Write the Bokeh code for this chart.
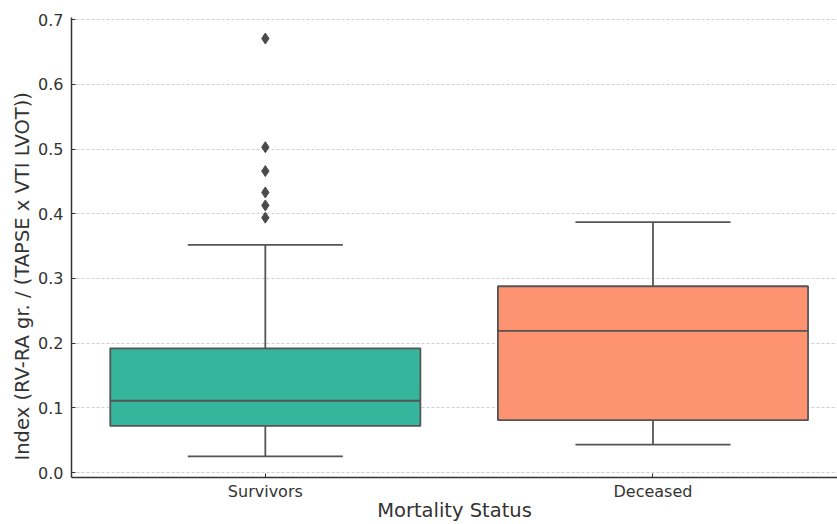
from bokeh.plotting import figure
from bokeh.models import FixedTicker, Range1d, ColumnDataSource, Title
from bokeh.embed import file_html
from bokeh.resources import INLINE

# ---- data ----
categories = ["Survivors", "Deceased"]
q1 = [0.072, 0.081]
median = [0.111, 0.219]
q3 = [0.192, 0.288]
whisker_low = [0.025, 0.043]
whisker_high = [0.352, 0.387]
colors = ["#35b59b", "#fd9370"]
outliers_survivors = [0.671, 0.503, 0.466, 0.433, 0.413, 0.394]
outliers_deceased = []
y_ticks = [0.0, 0.1, 0.2, 0.3, 0.4, 0.5, 0.6, 0.7]
x_title = "Mortality Status"
y_title = "Index (RV-RA gr. / (TAPSE x VTI LVOT))"

pos = list(range(len(categories)))
box_w = 0.8
cap_w = 0.4
line_col = "#555555"
font = "DejaVu Sans"

p = figure(width=837, height=524, output_backend="svg", toolbar_location=None,
           x_range=Range1d(-0.5, 1.476), y_range=Range1d(-0.0077, 0.7035),
           min_border_left=71, min_border_right=0, min_border_top=17, min_border_bottom=0)
p.outline_line_color = None
p.background_fill_color = "white"

src = ColumnDataSource(dict(x=pos, q1=q1, q3=q3, med=median, lo=whisker_low, hi=whisker_high,
                            color=colors,
                            capl=[x - cap_w / 2 for x in pos], capr=[x + cap_w / 2 for x in pos],
                            bl=[x - box_w / 2 for x in pos], br=[x + box_w / 2 for x in pos]))

# whiskers
p.segment(x0="x", y0="q3", x1="x", y1="hi", source=src, line_color=line_col, line_width=1.8)
p.segment(x0="x", y0="q1", x1="x", y1="lo", source=src, line_color=line_col, line_width=1.8)
p.segment(x0="capl", y0="hi", x1="capr", y1="hi", source=src, line_color=line_col, line_width=1.8)
p.segment(x0="capl", y0="lo", x1="capr", y1="lo", source=src, line_color=line_col, line_width=1.8)
# boxes
p.quad(left="bl", right="br", bottom="q1", top="q3", source=src, fill_color="color",
       line_color=line_col, line_width=1.8)
p.segment(x0="bl", y0="med", x1="br", y1="med", source=src, line_color=line_col, line_width=1.8)

# outliers
ox = [pos[0]] * len(outliers_survivors) + [pos[1]] * len(outliers_deceased)
oy = outliers_survivors + outliers_deceased
p.scatter(ox, oy, marker="diamond", size=11, fill_color="#4a4a4a", line_color="#4a4a4a")

# axes
p.xaxis.ticker = FixedTicker(ticks=pos)
p.xaxis.major_label_overrides = {i: c for i, c in enumerate(categories)}
p.yaxis.ticker = FixedTicker(ticks=y_ticks)
p.yaxis.major_label_overrides = {t: f"{t:.1f}" for t in y_ticks}
p.xaxis.axis_label = x_title

for ax in (p.xaxis, p.yaxis):
    ax.axis_line_color = "#333333"
    ax.axis_line_width = 1.5
    ax.major_tick_line_color = "#333333"
    ax.major_tick_in = 4
    ax.major_tick_out = 0
    ax.minor_tick_line_color = None
    ax.major_label_text_font = font
    ax.major_label_text_font_size = "16px"
    ax.major_label_text_color = "#333333"
    ax.axis_label_text_font = font
    ax.axis_label_text_font_size = "19.5px"
    ax.axis_label_text_font_style = "normal"
    ax.axis_label_text_color = "#333333"
p.xaxis.major_label_standoff = 4
p.xaxis.axis_label_standoff = -5
p.yaxis.major_label_standoff = 8

# y-axis title as a side title (lets it sit a little below the frame centre, as in the reference)
p.add_layout(Title(text=y_title, align="left", offset=17, standoff=4,
                   text_font=font, text_font_size="19.5px", text_font_style="normal",
                   text_color="#333333"), "left")

p.xgrid.grid_line_color = None
p.ygrid.ticker = FixedTicker(ticks=y_ticks)
p.ygrid.grid_line_color = "#cfcfcf"
p.ygrid.grid_line_dash = "3 2"
p.ygrid.grid_line_width = 1

open("out.html", "w").write(file_html(p, INLINE))
